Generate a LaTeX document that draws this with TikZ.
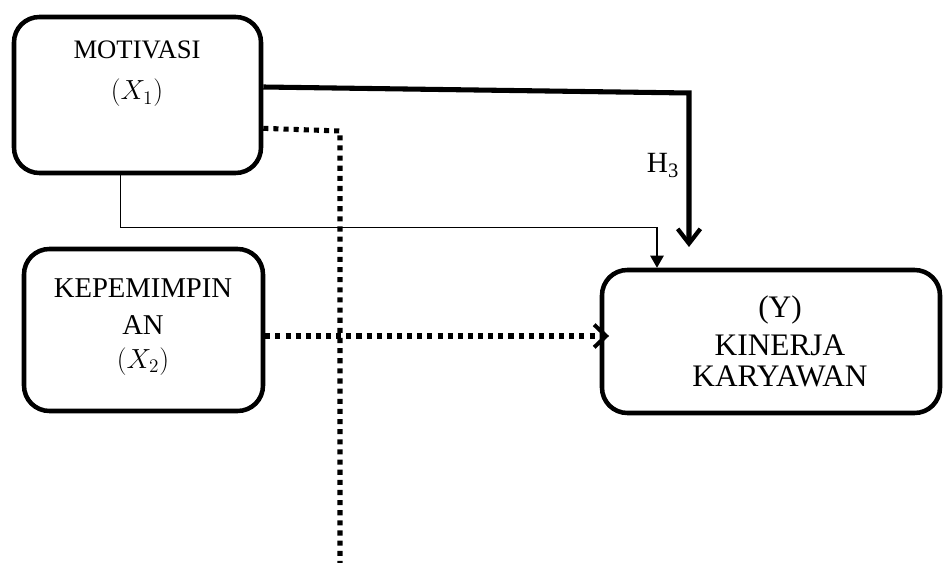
\documentclass[tikz,border=0pt]{standalone}
\usepackage{fontspec}
\setmainfont{Liberation Serif}
\usetikzlibrary{arrows.meta}

\begin{document}
\begin{tikzpicture}[x=0.75pt,y=-0.75pt,
        kotak/.style={draw,line width=3.4pt,rounded corners=19pt},
        teks/.style={anchor=base,inner sep=0pt},
        tebal/.style={line width=3.8pt,-{Straight Barb[length=11pt,width=17pt,line width=3.2pt]}},
        tipis/.style={line width=1pt,-{Triangle[length=9pt,width=10pt]}},
        titik/.style={line width=3.8pt,dash pattern=on 3.8pt off 3.8pt}]
    \useasboundingbox (0,0) rectangle (943,563);
    \node[kotak,minimum width=185.25pt,minimum height=117pt] (motivasi) at (137.5,95) {};
    \node[kotak,minimum width=179.25pt,minimum height=121.5pt] (kepemimpinan) at (143.5,330) {};
    \node[kotak,minimum width=253.5pt,minimum height=107.25pt] (kinerja) at (771,341.5) {};
    \node[teks,font=\fontsize{20}{22}\selectfont] (tmotivasi) at (137,59) {MOTIVASI};
    \node[teks,font=\fontsize{22}{24}\selectfont] (tx1) at (137,100) {$(X_1)$};
    \node[teks,font=\fontsize{21.5}{24}\selectfont] (tkep1) at (143,297) {KEPEMIMPIN};
    \node[teks,font=\fontsize{21.5}{24}\selectfont] (tkep2) at (143,334) {AN};
    \node[teks,font=\fontsize{22}{24}\selectfont] (tx2) at (143,368) {$(X_2)$};
    \node[teks,font=\fontsize{23.5}{26}\selectfont] (ty) at (780,317) {(Y)};
    \node[teks,font=\fontsize{23.5}{26}\selectfont] (tkin1) at (780,355) {KINERJA};
    \node[teks,font=\fontsize{23.5}{26}\selectfont] (tkin2) at (780,386) {KARYAWAN};
    \node[teks,font=\fontsize{22}{24}\selectfont] (h3) at (663,173) {H\textsubscript{3}};
    \coordinate (sudut) at (689,93);
    \coordinate (ujung) at (689,247);
    \coordinate (belok) at (340,131);
    \coordinate (bawah) at (340,563);
    \draw[tebal] ([yshift=6pt]motivasi.east) -- (sudut) -- (ujung);
    \draw[tipis] ([xshift=-13pt]motivasi.south) -- ++(0,52) -| ([xshift=-85.5pt]kinerja.north);
    \draw[titik] ([yshift=-25pt]motivasi.east) -- (belok) -- (bawah);
    \draw[titik,-{Straight Barb[length=9pt,width=17pt,line width=3pt]}]
        ([yshift=-4.5pt]kepemimpinan.east) -- ([yshift=-4.5pt,xshift=7pt]kepemimpinan.east -| kinerja.west);
\end{tikzpicture}
\end{document}
